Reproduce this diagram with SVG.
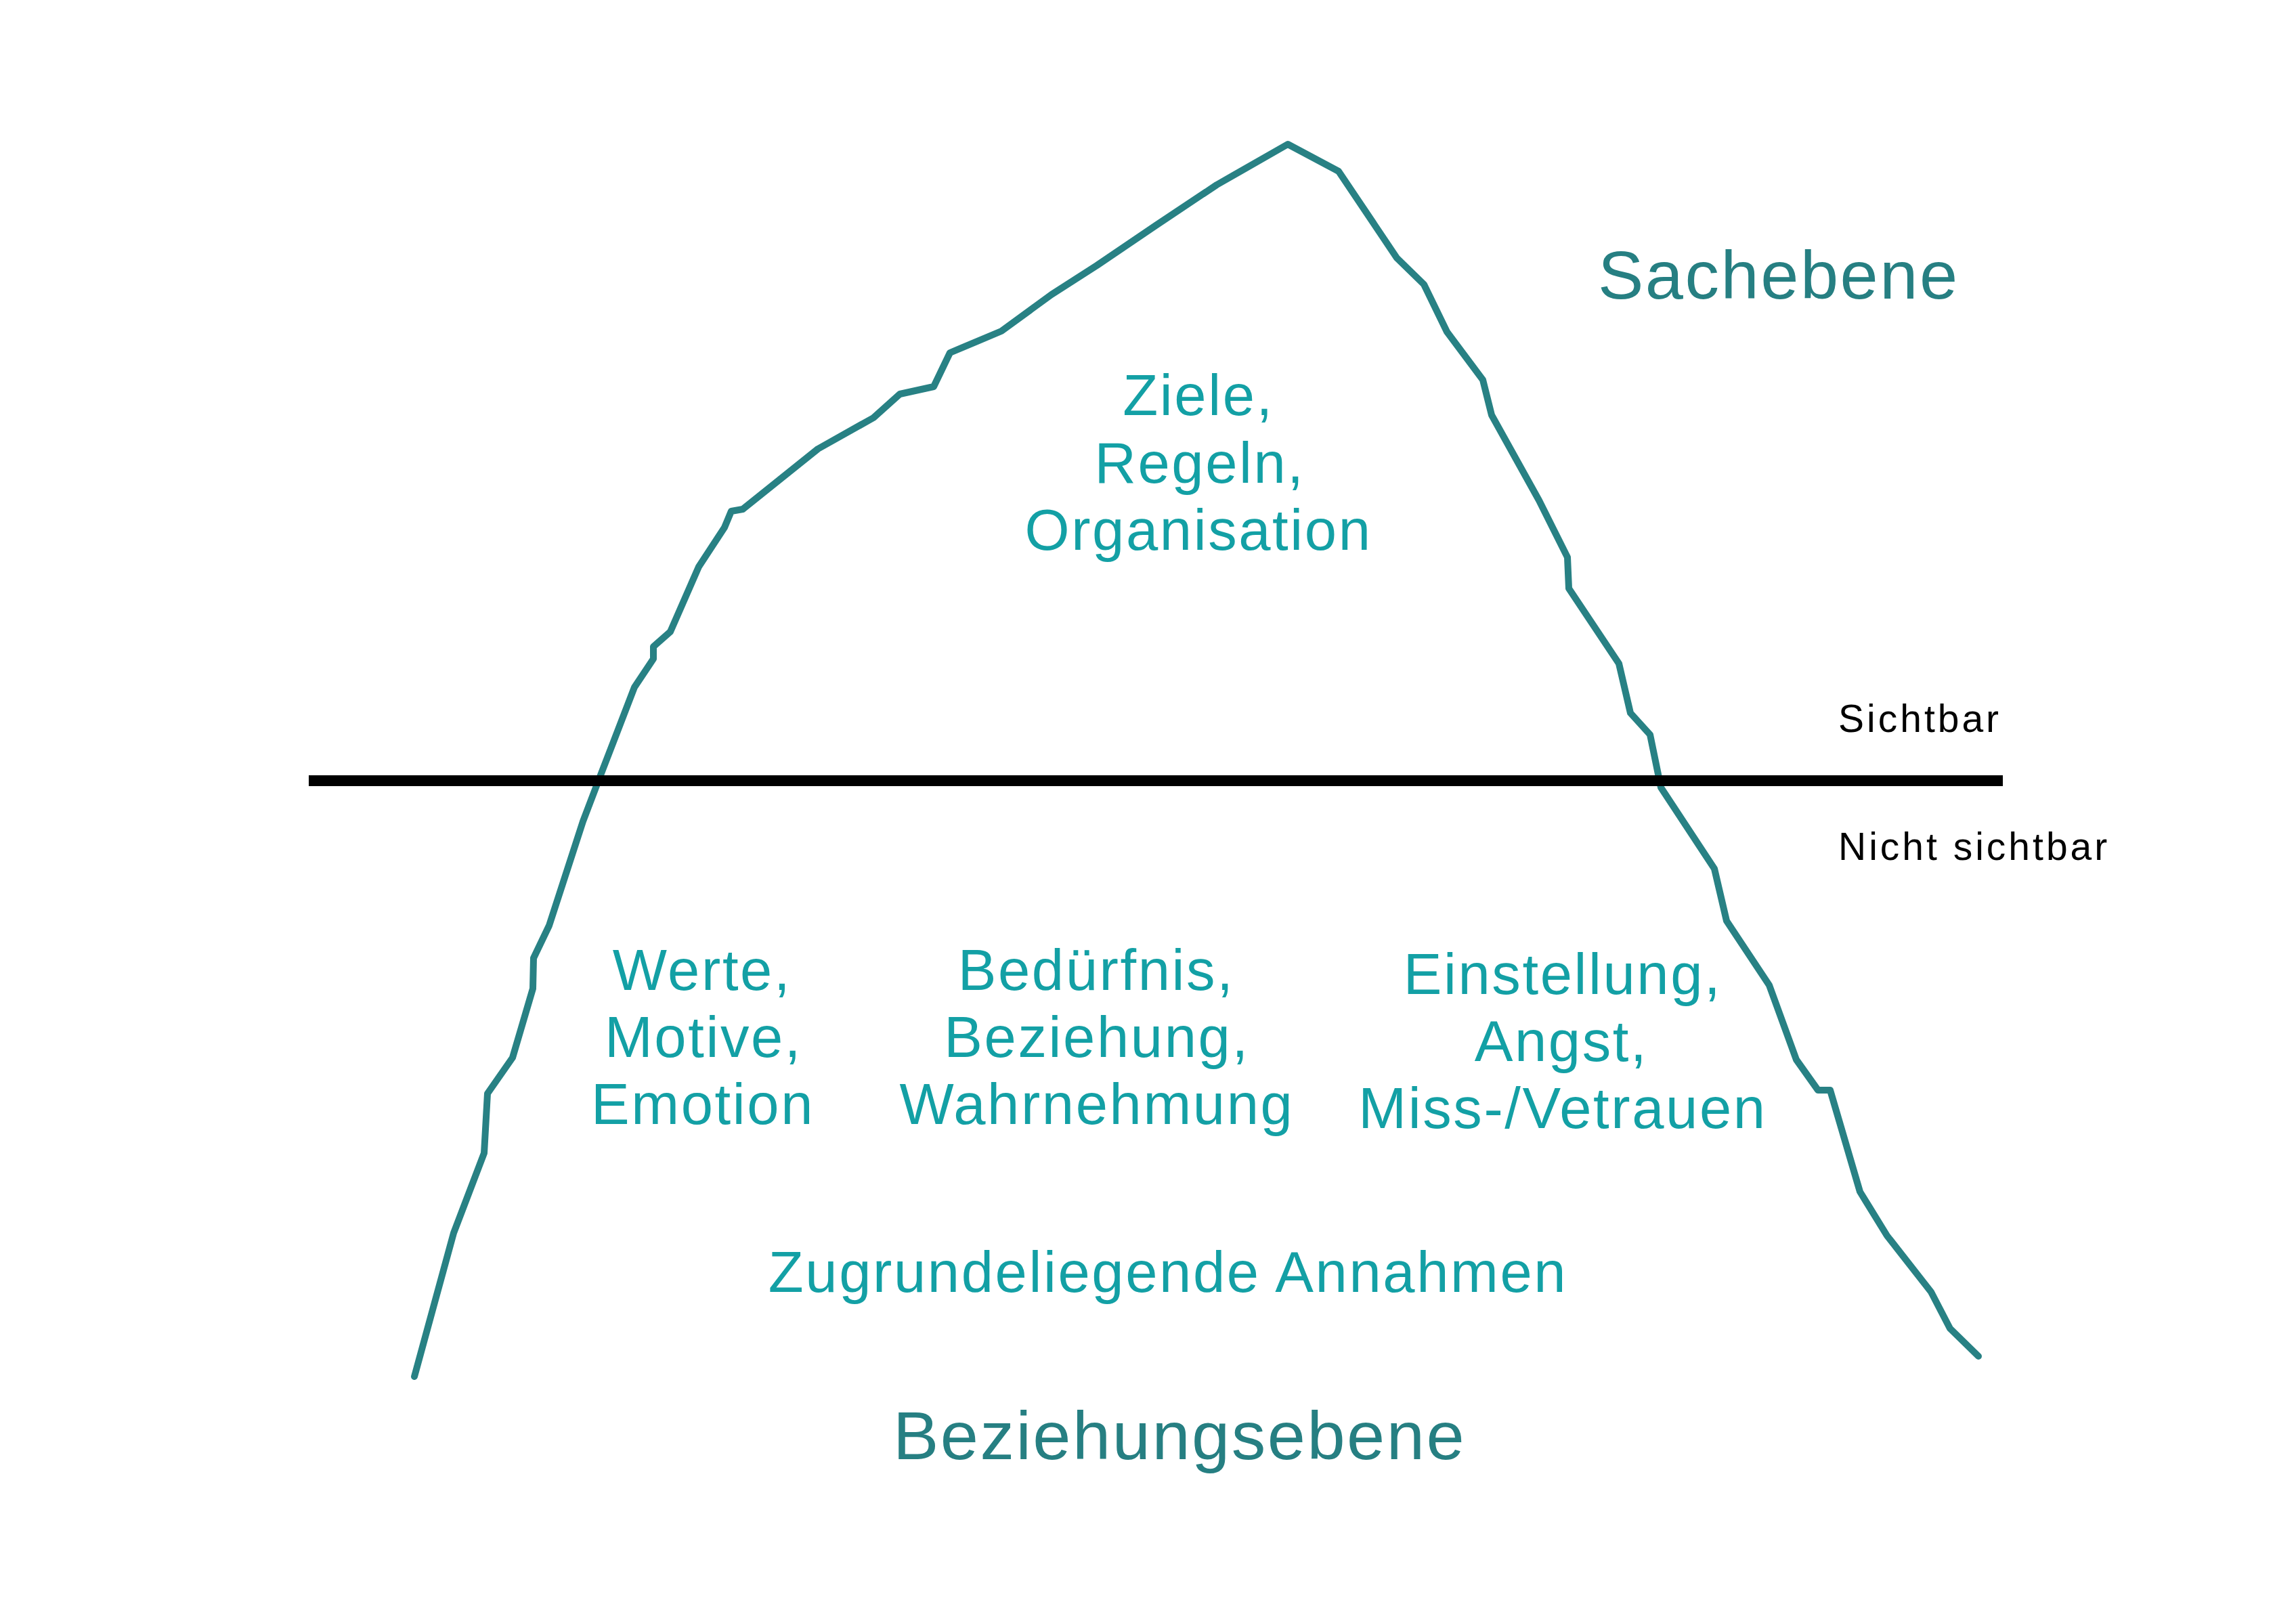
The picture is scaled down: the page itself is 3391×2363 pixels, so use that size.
<svg xmlns="http://www.w3.org/2000/svg" width="3391" height="2363" viewBox="0 0 3391 2363">
<style>
.berg{fill:none;stroke:#288184;stroke-width:10;stroke-linejoin:round;stroke-linecap:round}
.water{stroke:#000;stroke-width:16}
.title{font-family:"Liberation Sans",Arial,sans-serif;font-size:101px;fill:#267f82;letter-spacing:2.5px}
.inner{font-family:"Liberation Sans",Arial,sans-serif;font-size:85px;fill:#13a0a5;letter-spacing:2.6px;text-anchor:middle}
.side{font-family:"Liberation Sans",Arial,sans-serif;font-size:57px;fill:#000;letter-spacing:4px}
</style>
<rect width="3391" height="2363" fill="#fff"/>
<g id="iceberg">
<polyline class="berg" points="612,2033 670,1821 715,1703 720,1615 757,1562 787,1460 788,1415 811,1367 861,1213 885,1150 907,1093 937,1015 965,973 965,955 990,933 1032,837 1070,779 1080,755 1097,752 1208,663 1290,617 1329,582 1379,571 1403,521 1479,489 1553,435 1620,392 1707,333 1797,273 1902,213 1977,253 2063,381 2103,420 2137,490 2190,561 2203,613 2273,739 2315,823 2317,869 2391,980 2408,1053 2437,1085 2453,1163 2532,1283 2550,1360 2613,1455 2653,1565 2685,1610 2703,1610 2747,1760 2787,1825 2852,1908 2880,1962 2922,2003"/>
</g>
<g id="waterline">
<line class="water" x1="456" y1="1153" x2="2958" y2="1153"/>
</g>
<g id="label-sachebene"><text class="title" x="2360" y="441">Sachebene</text></g>
<g id="label-beziehungsebene"><text class="title" x="1742" y="2155" text-anchor="middle">Beziehungsebene</text></g>
<g id="label-sichtbar"><text class="side" x="2715" y="1081">Sichtbar</text></g>
<g id="label-nicht-sichtbar"><text class="side" x="2715" y="1270">Nicht sichtbar</text></g>
<g id="node-ziele">
<text class="inner" x="1770" y="613">Ziele,</text>
<text class="inner" x="1772" y="713">Regeln,</text>
<text class="inner" x="1770" y="812">Organisation</text>
</g>
<g id="node-werte">
<text class="inner" x="1037" y="1462">Werte,</text>
<text class="inner" x="1039" y="1561">Motive,</text>
<text class="inner" x="1038" y="1660">Emotion</text>
</g>
<g id="node-beduerfnis">
<text class="inner" x="1619" y="1462">Bedürfnis,</text>
<text class="inner" x="1620" y="1561">Beziehung,</text>
<text class="inner" x="1620" y="1660">Wahrnehmung</text>
</g>
<g id="node-einstellung">
<text class="inner" x="2308" y="1468">Einstellung,</text>
<text class="inner" x="2306" y="1567">Angst,</text>
<text class="inner" x="2308" y="1666">Miss-/Vetrauen</text>
</g>
<g id="node-annahmen">
<text class="inner" x="1725" y="1908">Zugrundeliegende Annahmen</text>
</g>
</svg>
